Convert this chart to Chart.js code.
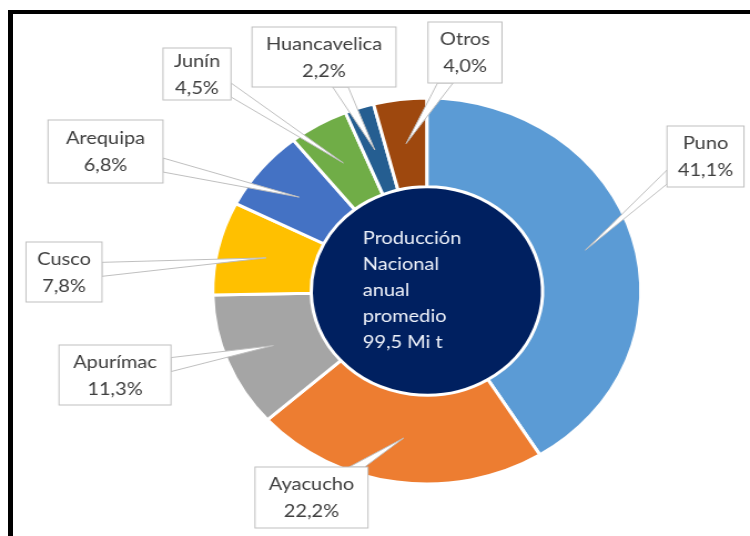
<!DOCTYPE html>
<html>
<head>
<meta charset="utf-8">
<script src="https://cdn.jsdelivr.net/npm/chart.js@4/dist/chart.umd.min.js"></script>
<style>
  body { margin: 0; background: #fff; }
  #wrap { position: relative; width: 750px; height: 536px; overflow: hidden; }
  #frame { position: absolute; left: 8px; top: 10px; width: 750px; height: 540px;
           border-top: 4px solid #000; border-left: 5px solid #000; }
  #chart { position: absolute; left: 0; top: 0; }
</style>
</head>
<body>
<div id="wrap">
  <div id="frame"></div>
  <canvas id="chart" width="676" height="536" style="width:750px;height:536px"></canvas>
</div>
<script>
// data (share of national production, %)
const regions = ['Puno', 'Ayacucho', 'Apurímac', 'Cusco', 'Arequipa', 'Junín', 'Huancavelica', 'Otros'];
const shares = [41.1, 22.2, 11.3, 7.8, 6.8, 4.5, 2.2, 4.0];
const colors = ['#5B9BD5', '#ED7D31', '#A5A5A5', '#FFC000', '#4472C4', '#70AD47', '#255E91', '#9E480E'];
const totalProduction = 99.5; // Mi t
const centreLines = ['Producción', 'Nacional', 'anual', 'promedio', '99,5 Mi t'];

// the original picture is stretched sideways, so the canvas is too
const SX = 750 / 676;

// callout boxes [left, top, right, bottom] in page pixels
const boxes = {
  'Puno': [667, 126, 744, 187],
  'Ayacucho': [255, 467, 368, 528],
  'Apurímac': [59, 345, 171, 405],
  'Cusco': [26, 242, 102, 302],
  'Arequipa': [48, 120, 163, 183],
  'Junín': [163, 48, 231, 100],
  'Huancavelica': [252, 27, 396, 87],
  'Otros': [428, 22, 502, 83]
};

const fmt = v => v.toFixed(1).replace('.', ',') + '%';

const callouts = {
  id: 'callouts',
  afterDatasetsDraw(chart) {
    const ctx = chart.ctx;
    const centre = chart.getDatasetMeta(1).data[0];

    ctx.save();
    // text inside the navy circle
    ctx.fillStyle = '#eef2fa';
    ctx.font = '18px Lato';
    ctx.textAlign = 'left';
    ctx.textBaseline = 'middle';
    centreLines.forEach((t, i) => {
      ctx.fillText(t, centre.x - 64 / SX, centre.y - 53 + i * 26);
    });

    // boxes with wedge pointers
    chart.getDatasetMeta(0).data.forEach((arc, i) => {
      const tip = arc.tooltipPosition(true);
      const b = boxes[regions[i]];
      const l = b[0] / SX, t = b[1], r = b[2] / SX, bt = b[3];
      const cx = (l + r) / 2, cy = (t + bt) / 2;
      const dx = tip.x - cx, dy = tip.y - cy;
      const tx = dx ? ((r - l) / 2) / Math.abs(dx) : Infinity;
      const ty = dy ? ((bt - t) / 2) / Math.abs(dy) : Infinity;
      let p1, p2;
      if (tx < ty) {
        const ex = dx > 0 ? r : l;
        let y = Math.min(Math.max(cy + dy * tx, t + 10), bt - 10);
        p1 = [ex, y - 7]; p2 = [ex, y + 7];
      } else {
        const ey = dy > 0 ? bt : t;
        let x = Math.min(Math.max(cx + dx * ty, l + 10), r - 10);
        p1 = [x - 7, ey]; p2 = [x + 7, ey];
      }
      ctx.beginPath();
      ctx.moveTo(p1[0], p1[1]);
      ctx.lineTo(tip.x, tip.y);
      ctx.lineTo(p2[0], p2[1]);
      ctx.closePath();
      ctx.fillStyle = '#ffffff';
      ctx.fill();
      ctx.strokeStyle = '#bfbfbf';
      ctx.lineWidth = 1;
      ctx.stroke();

      ctx.fillRect(l, t, r - l, bt - t);
      ctx.strokeRect(l, t, r - l, bt - t);

      ctx.fillStyle = '#404040';
      ctx.textAlign = 'center';
      ctx.font = '18px Lato';
      ctx.fillText(regions[i], cx, cy - 13);
      ctx.fillText(fmt(shares[i]), cx, cy + 14);
    });
    ctx.restore();
  }
};

new Chart(document.getElementById('chart'), {
  type: 'doughnut',
  data: {
    labels: regions,
    datasets: [{
      data: shares,
      backgroundColor: colors,
      borderColor: '#ffffff',
      borderWidth: 3,
      weight: 46
    }, {
      data: [totalProduction],
      backgroundColor: ['#002060'],
      borderWidth: 0,
      weight: 54
    }]
  },
  options: {
    responsive: false,
    animation: false,
    events: [],
    cutout: 0,
    layout: { padding: { top: 96.5, bottom: 50.5, left: 120, right: 26.6 } },
    plugins: {
      legend: { display: false },
      tooltip: { enabled: false }
    }
  },
  plugins: [callouts]
});
</script>
</body>
</html>
